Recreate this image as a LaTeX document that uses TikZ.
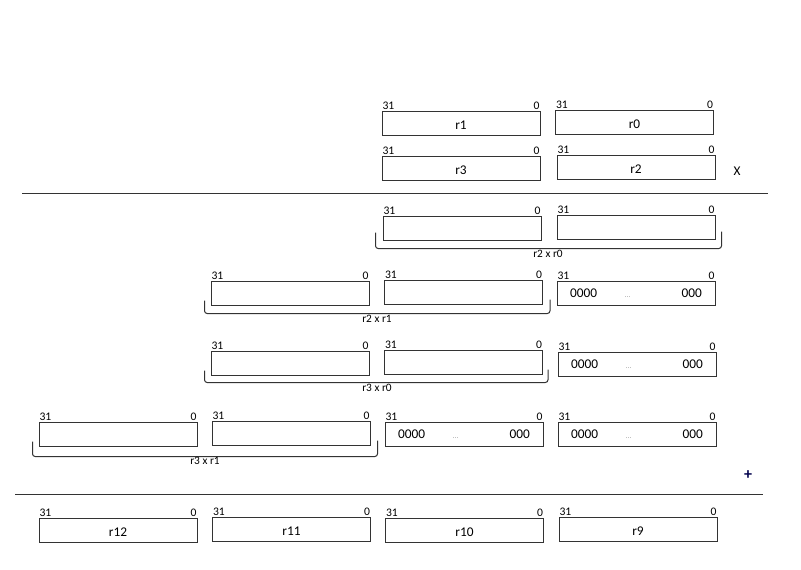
\documentclass[tikz,border=0pt]{standalone}
\usepackage{fontspec}
\setmainfont{Carlito}
\usetikzlibrary{calc}

\newcommand{\zerofill}{\hbox to 99pt{0000\hskip0pt plus 1fil{\color{black!35}\fontsize{6}{7}\selectfont...}\hskip0pt plus 1.85fil 000}}

\begin{document}
\begin{tikzpicture}[x=0.75pt,y=-0.75pt,
        reg/.style={draw=black!80, line width=0.75pt, minimum width=118.5pt, minimum height=18pt,
            inner sep=0pt, font=\fontsize{10}{11}\selectfont,
            label={[bit,anchor=south west]north west:31},
            label={[bit,anchor=south east]north east:0}},
        named/.style={reg, text height=9.5pt, text depth=0pt},
        bit/.style={inner sep=0.6pt, font=\fontsize{8.7}{9}\selectfont},
        brace/.style={draw=black!80, line width=0.75pt, rounded corners=2pt},
        prod/.style={inner sep=1pt, anchor=north, font=\fontsize{8.5}{9}\selectfont},
        rule/.style={draw=black!80, line width=0.75pt}]
        \useasboundingbox (0,0) rectangle (801,569);

        % Operands
        \node[named] (r1) at (461,123) {r1};
        \node[named] (r0) at (634.5,122) {r0};
        \node[named] (r3) at (461,168) {r3};
        \node[named] (r2) at (636,167) {r2};
        \node[font=\fontsize{10}{11}\selectfont] (times) at (737,171) {X};
        \draw[rule] (22,193) -- (768,193);

        % Partial product r2 x r0
        \node[reg] (pa1) at (462,228) {};
        \node[reg] (pa0) at (636,227) {};
        \draw[brace] ($(pa1.south west)+(-7,-8)$) -- ($(pa1.south west)+(-7,8)$) -| ($(pa0.south east)+(6,-8)$);
        \node[prod] (pa) at (548,249) {r2 x r0};

        % Partial product r2 x r1
        \node[reg] (pb2) at (290,293) {};
        \node[reg] (pb1) at (463.5,292) {};
        \node[reg] (pb0) at (636,293) {\zerofill};
        \draw[brace] ($(pb2.south west)+(-6,-5)$) -- ($(pb2.south west)+(-6,8)$) -| ($(pb1.south east)+(7,-5)$);
        \node[prod] (pb) at (377,314) {r2 x r1};

        % Partial product r3 x r0
        \node[reg] (pc2) at (290,363) {};
        \node[reg] (pc1) at (463.5,362) {};
        \node[reg] (pc0) at (637,364) {\zerofill};
        \draw[brace] ($(pc2.south west)+(-6,-5)$) -- ($(pc2.south west)+(-6,7)$) -| ($(pc1.south east)+(5,-5)$);
        \node[prod] (pc) at (377,383) {r3 x r0};

        % Partial product r3 x r1
        \node[reg] (pd3) at (118,434) {};
        \node[reg] (pd2) at (291,433) {};
        \node[reg] (pd1) at (464,434.5) {\zerofill};
        \node[reg] (pd0) at (637,434.5) {\zerofill};
        \draw[brace] ($(pd3.south west)+(-6,-5)$) -- ($(pd3.south west)+(-6,10)$) -| ($(pd2.south east)+(7,-5)$);
        \node[prod] (pd) at (205,456) {r3 x r1};

        \node[font=\bfseries\fontsize{12}{13}\selectfont, text=blue!30!black] (plus) at (748,475) {+};
        \draw[rule] (15,494) -- (763,494);

        % Result
        \node[named] (r12) at (118,530) {r12};
        \node[named] (r11) at (291.5,529) {r11};
        \node[named] (r10) at (464.5,530) {r10};
        \node[named] (r9) at (638,529) {r9};
\end{tikzpicture}
\end{document}
